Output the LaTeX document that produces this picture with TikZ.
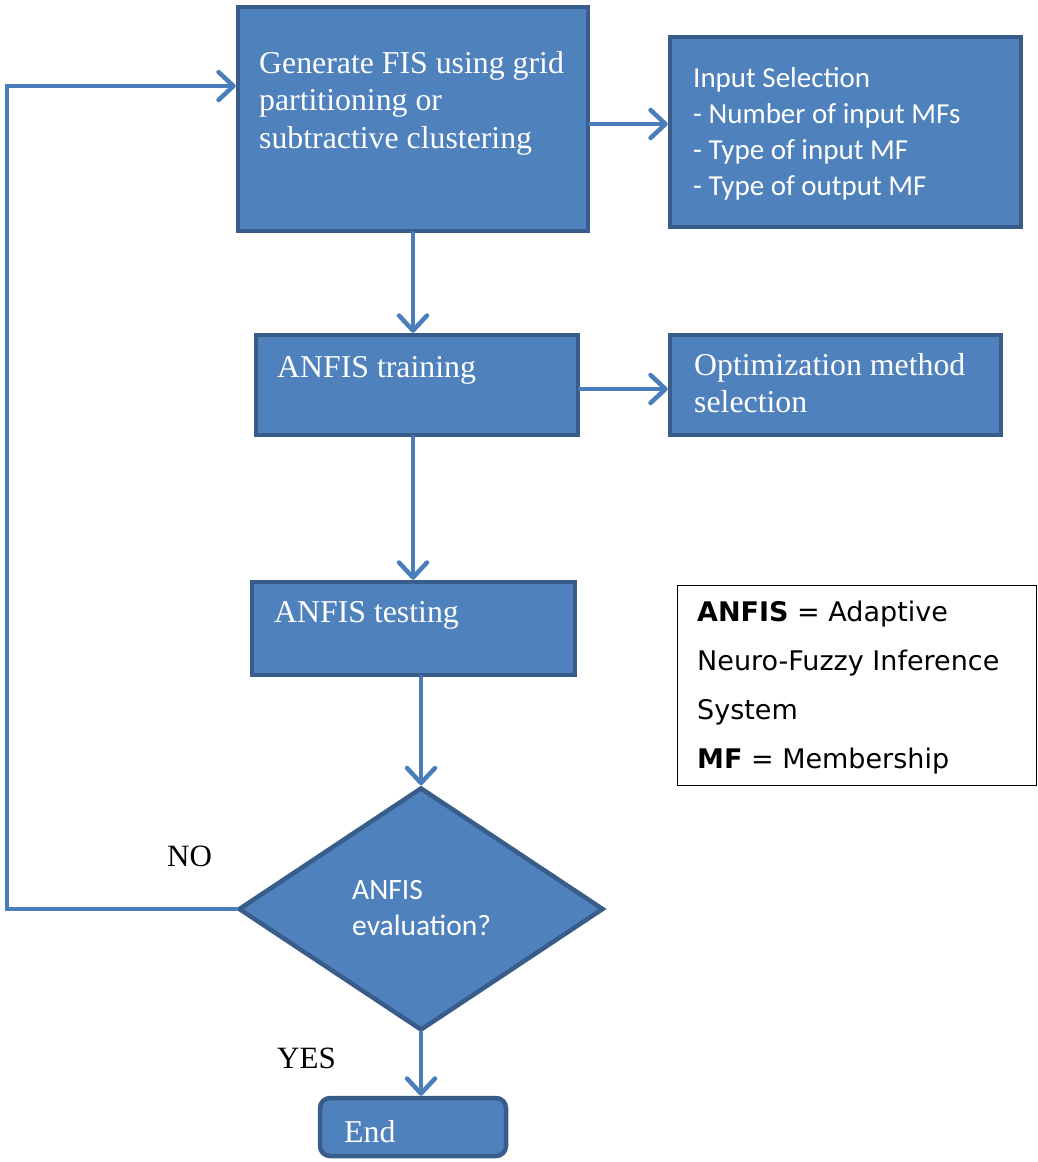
\documentclass[tikz,border=0pt]{standalone}
\usepackage{fontspec}
\setmainfont{Liberation Serif}
\newfontfamily\boxsans{Carlito}
\newfontfamily\notesans{DejaVu Sans}
\usetikzlibrary{arrows.meta,shapes.geometric}

\definecolor{boxfill}{HTML}{4F81BD}
\definecolor{boxedge}{HTML}{385D8A}
\definecolor{flowblue}{HTML}{4A7EBB}

\begin{document}
\begin{tikzpicture}[x=1pt,y=-1pt,
  box/.style={draw=boxedge, fill=boxfill, line width=4.5pt, inner sep=0pt},
  flow/.style={draw=flowblue, line width=4.5pt, line cap=round, line join=miter,
    -{Straight Barb[length=15pt,width=28pt,line cap=round,line join=round]}},
  serifw/.style={text=white, inner sep=0pt, anchor=north west, align=left,
    font=\fontsize{31.8}{37.5}\selectfont},
  sansw/.style={text=white, inner sep=0pt, anchor=north west, align=left,
    font=\boxsans\fontsize{29.5}{36}\selectfont},
  serifb/.style={text=black, inner sep=0pt, anchor=base west,
    font=\fontsize{31}{37}\selectfont}
]
\useasboundingbox (0,0) rectangle (1037,1162);

% process boxes
\node[box, minimum width=350pt, minimum height=224pt] (fis)   at (413,119)   {};
\node[box, minimum width=351pt, minimum height=190pt] (sel)   at (845.5,132) {};
\node[box, minimum width=322pt, minimum height=100pt] (train) at (417,385)   {};
\node[box, minimum width=331pt, minimum height=100pt] (opt)   at (835.5,385) {};
\node[box, minimum width=323pt, minimum height=93pt]  (test)  at (413.5,628.5) {};
\node[box, diamond, minimum width=365pt, minimum height=243pt] (dia) at (421,909) {};
\node[box, rounded corners=10pt, minimum width=186pt, minimum height=58pt] (end) at (413,1127) {};

% legend
\node[draw=black, line width=1pt, minimum width=359pt, minimum height=200pt, inner sep=0pt] (legend) at (856.5,685) {};

% box texts
\node[serifw] (fistxt) at (259,51) {Generate FIS using grid\\partitioning or\\subtractive clustering};
\node[sansw, font=\boxsans\fontsize{29}{36}\selectfont] (seltxt) at (693,67) {Input Selection\\- Number of input MFs\\- Type of input MF\\- Type of output MF};
\node[serifw] (traintxt) at (277,356) {ANFIS training};
\node[serifw] (opttxt) at (694,353) {Optimization method\\selection};
\node[serifw] (testtxt) at (274,601) {ANFIS testing};
\node[sansw] (diatxt) at (352,880) {ANFIS\\evaluation?};
\node[serifw] (endtxt) at (344,1120) {End};

% legend text
\node[inner sep=0pt, anchor=north west, align=left,
      font=\notesans\fontsize{27}{48.8}\selectfont] (legtxt) at (697,601)
  {\textbf{ANFIS} = Adaptive\\Neuro-Fuzzy Inference\\System\\\textbf{MF} = Membership};

% branch labels
\node[serifb] (no)  at (167,866)  {NO};
\node[serifb] (yes) at (277,1068) {YES};

% connectors
\coordinate (loopbot) at (7,909);
\coordinate (looptop) at (7,86);
\draw[flow] (dia.west) -- (loopbot) -- (looptop) -- (looptop -| fis.west);
\draw[flow] ([yshift=-5pt]fis.east) -- ([yshift=-5pt]fis.east -| sel.west);
\draw[flow] (fis.south) -- (fis.south |- train.north);
\draw[flow] ([yshift=-4pt]train.east) -- ([yshift=-4pt]train.east -| opt.west);
\draw[flow] (train.south -| fis.south) -- (fis.south |- test.north);
\draw[flow] (test.south -| dia.north) -- (dia.north);
\draw[flow] (dia.south) -- (dia.south |- end.north);
\end{tikzpicture}
\end{document}
